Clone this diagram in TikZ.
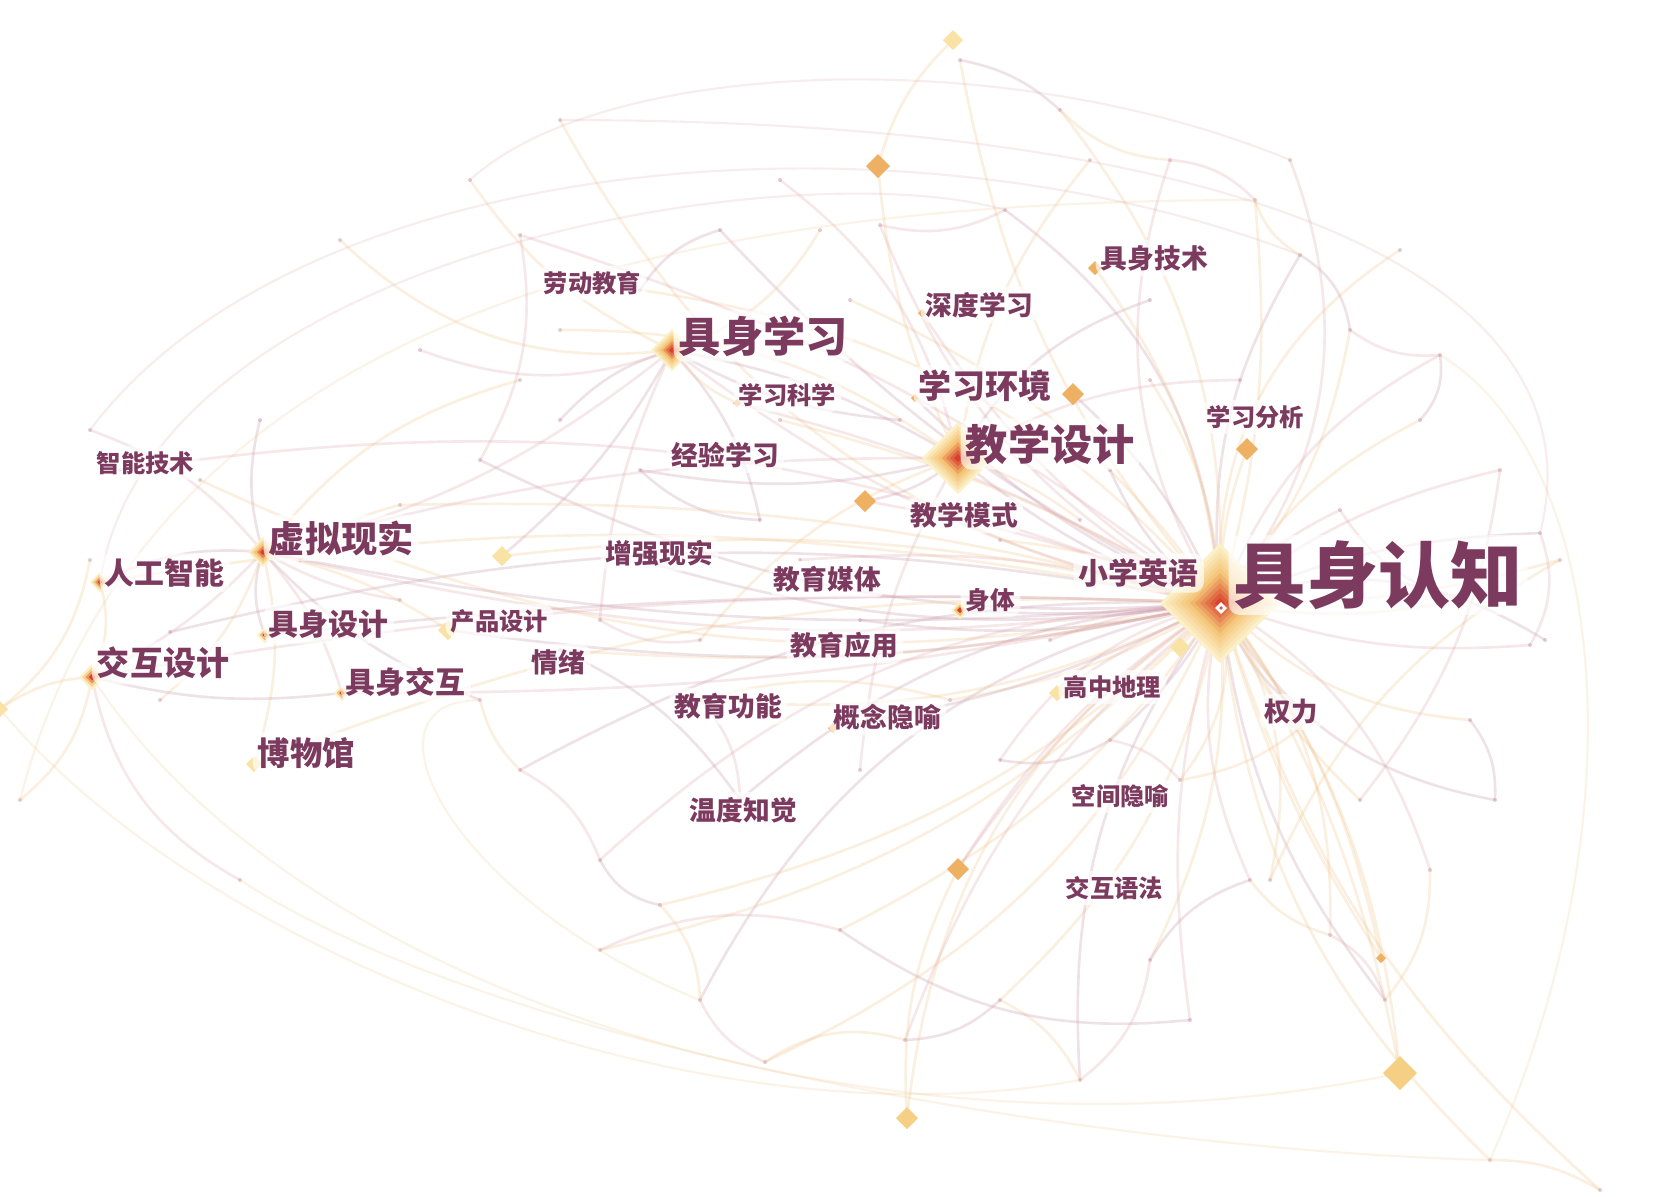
\documentclass[tikz,border=0pt]{standalone}
\usepackage{fontspec}
\newfontfamily\cjk{Noto Sans CJK SC}
\definecolor{kwtext}{HTML}{7C3A5F}
\definecolor{ringlow}{HTML}{FCF0C8}
\definecolor{ringmid}{HTML}{F4C274}
\definecolor{ringhigh}{HTML}{D8402C}
\definecolor{linkA}{HTML}{F0C48A}
\definecolor{linkB}{HTML}{E0A6A8}
\definecolor{linkC}{HTML}{C492A6}
\definecolor{markorange}{HTML}{EEB063}
\definecolor{markpale}{HTML}{F9E3A4}
\definecolor{markpeach}{HTML}{F5CF84}
% layered keyword marker: centre, half diagonal, rings
\newcommand{\kwmark}[3]{%
  \foreach \k in {0,...,#3}{%
    \pgfmathsetmacro\rr{#2*(1-\k/(#3+1))}%
    \pgfmathtruncatemacro\pp{200*\k/#3}%
    \ifnum\pp<101 \def\rc{ringmid!\pp!ringlow}%
    \else \pgfmathtruncatemacro\qq{\pp-100}\def\rc{ringhigh!\qq!ringmid}\fi
    \fill[\rc] (#1) ++(-\rr,0) -- ++(\rr,-\rr) -- ++(\rr,\rr) -- ++(-\rr,\rr) -- cycle;
  }}
\newcommand{\solidmark}[3]{%
  \fill[#3] (#1) ++(-#2,0) -- ++(#2,-#2) -- ++(#2,#2) -- ++(-#2,#2) -- cycle;}
\tikzset{
  kw/.style={text=kwtext, anchor=west, fill=white, fill opacity=0.65, text opacity=1,
    rounded corners=3pt, inner sep=1.5pt, font=\cjk\bfseries\fontsize{#1}{#1}\selectfont},
  linkline/.style={line width=0.75pt, opacity=0.26},
  farline/.style={line width=0.6pt, opacity=0.2},
}
\begin{document}
\begin{tikzpicture}[x=0.01cm,y=-0.01cm]
\useasboundingbox[fill=white] (0,0) rectangle (1678,1196);

% marker centres
\coordinate (hub) at (1220,603);
\coordinate (d-ed) at (958,458);
\coordinate (d-el) at (672,350);
\coordinate (d-vr) at (263,552);
\coordinate (d-ai) at (100,582);
\coordinate (d-ixd) at (92,677);
\coordinate (d-edes) at (265,635);
\coordinate (d-eint) at (342,693);
\coordinate (d-pd) at (448,630);
\coordinate (d-mus) at (254,764);
\coordinate (d-body) at (960,610);
\coordinate (d-a) at (878,166);
\coordinate (d-b) at (1073,394);
\coordinate (d-c) at (1247,449);
\coordinate (d-d) at (865,501);
\coordinate (d-e) at (958,869);
\coordinate (d-f) at (1381,958);
\coordinate (d-g) at (1095,268);
\coordinate (d-h) at (922,313);
\coordinate (d-i) at (737,403);
\coordinate (d-j) at (915,398);
\coordinate (d-k) at (833,728);
\coordinate (d-l) at (953,40);
\coordinate (d-m) at (502,556);
\coordinate (d-n) at (1400,1073);
\coordinate (d-o) at (907,1118);
\coordinate (d-p) at (1180,647);
\coordinate (d-q) at (1057,693);
\coordinate (d-r) at (0,709);

% links from the hub
\foreach \ex/\ey/\bd/\cl [count=\i] in {
  1540/533/10/linkC, 1530/645/-12/linkB, 1470/720/-20/linkA, 1495/800/-25/linkC,
  1420/420/15/linkA, 1440/355/20/linkB, 1350/330/-15/linkA, 1300/255/18/linkC,
  1255/200/-10/linkA, 1170/160/25/linkB, 1060/110/-20/linkA, 960/60/15/linkA,
  1005/210/-25/linkC, 880/225/20/linkB, 850/300/-15/linkA, 720/230/10/linkC,
  640/290/-20/linkA, 560/120/25/linkA, 520/235/-10/linkB, 480/460/15/linkC,
  400/505/-8/linkA, 300/560/10/linkB, 170/632/-12/linkC, 200/480/18/linkA,
  120/470/-15/linkB, 560/650/8/linkA, 520/770/-15/linkC, 600/860/-20/linkB,
  660/905/15/linkA, 700/1000/-25/linkC, 765/1062/20/linkA, 905/1040/-15/linkB,
  1000/1000/18/linkA, 1080/1080/-20/linkC, 1150/960/15/linkA, 1250/880/-18/linkB,
  1330/935/20/linkA, 1385/1000/-15/linkC, 1430/870/20/linkB, 1490/1160/-20/linkA,
  1400/1073/15/linkA, 958/869/-10/linkB, 1381/958/12/linkA, 907/1118/-25/linkA,
  1110/740/10/linkC, 1000/760/-20/linkB, 1180/780/25/linkA, 1310/720/-15/linkC,
  1340/510/12/linkB, 1460/600/-10/linkA, 860/620/10/linkC, 800/560/-10/linkB,
  700/700/15/linkA, 740/800/-18/linkC, 950/700/10/linkA, 1050/640/-8/linkB,
  640/560/12/linkC, 1000/540/-10/linkA, 1110/470/15/linkC, 1150/380/-15/linkA,
  1600/1190/-15/linkA, 1545/640/25/linkC, 1290/160/-30/linkB, 1400/250/30/linkA,
  1270/880/22/linkA, 1190/1020/-12/linkB, 840/930/14/linkA, 1560/560/-8/linkA,
  1500/470/12/linkB, 1360/800/-10/linkA, 600/950/16/linkA, 780/420/-8/linkA}
{
  \coordinate (f\i) at (\ex,\ey);
  \draw[linkline, draw=\cl] (hub) to[bend left=\bd] (f\i);
  \fill[linkC, opacity=0.45] (f\i) circle[radius=2];
}

% links from the other large keywords
\foreach \src/\ex/\ey/\bd/\cl [count=\i] in {
  d-ed/1090/160/15/linkA, d-ed/780/180/-20/linkB, d-ed/640/470/12/linkC,
  d-ed/700/640/-15/linkA, d-ed/1150/300/20/linkC, d-ed/860/770/-12/linkB,
  d-ed/1080/520/10/linkA, d-ed/560/330/-18/linkA, d-ed/1240/380/15/linkB,
  d-el/470/180/15/linkA, d-el/560/420/-15/linkC, d-el/420/350/20/linkB,
  d-el/820/230/-20/linkA, d-el/760/520/15/linkC, d-el/600/620/-10/linkB,
  d-el/340/240/25/linkA, d-el/900/420/-12/linkC,
  d-vr/90/430/-15/linkB, d-vr/160/700/15/linkA, d-vr/480/700/-12/linkC,
  d-vr/520/380/18/linkA, d-vr/400/600/-10/linkB, d-vr/260/420/15/linkC,
  d-ixd/20/800/20/linkA, d-ixd/240/880/-25/linkB, d-r/90/560/-20/linkA}
{
  \coordinate (g\i) at (\ex,\ey);
  \draw[linkline, draw=\cl] (\src) to[bend left=\bd] (g\i);
  \fill[linkC, opacity=0.45] (g\i) circle[radius=2];
}

% links between keywords
\foreach \a/\b/\bd/\cl in {
  hub/d-ed/10/linkC, hub/d-el/12/linkB, hub/d-vr/8/linkC, hub/d-ai/-10/linkA,
  hub/d-ixd/-6/linkB, hub/d-edes/-4/linkC, hub/d-eint/6/linkB, hub/d-mus/-12/linkA,
  hub/d-body/5/linkC, hub/d-p/0/linkA, hub/d-q/-5/linkB, hub/d-c/10/linkA,
  hub/d-b/-12/linkC, hub/d-g/-15/linkA, hub/d-h/12/linkB, hub/d-k/8/linkC,
  hub/d-d/-6/linkB, hub/d-m/-10/linkA, hub/d-pd/10/linkC, hub/d-e/-12/linkB,
  hub/d-n/10/linkA, hub/d-f/-8/linkA, hub/d-j/10/linkC, hub/d-i/-8/linkB,
  d-ed/d-el/-10/linkC, d-ed/d-vr/-8/linkB, d-ed/d-a/10/linkA, d-ed/d-d/15/linkC,
  d-el/d-vr/12/linkB, d-el/d-i/-15/linkA, d-el/d-m/10/linkC,
  d-vr/d-ai/-15/linkC, d-vr/d-ixd/10/linkB, d-vr/d-mus/15/linkA, d-vr/d-edes/-20/linkC,
  d-vr/d-pd/10/linkA, d-vr/d-eint/12/linkB, d-ai/d-ixd/20/linkA, d-ixd/d-r/-15/linkA,
  d-ixd/d-eint/-10/linkC, d-a/d-l/15/linkA, d-e/d-o/-15/linkA,
  f27/f28/20/linkB, f28/f29/-25/linkC, f29/f30/20/linkA, f30/f31/-20/linkB,
  f31/f32/25/linkA, f32/f33/-20/linkC, f33/f34/18/linkA, f34/f35/-22/linkB,
  f35/f36/20/linkC, f36/f37/-18/linkA, f37/f38/22/linkB, f38/f39/-20/linkA,
  f26/f54/15/linkC, f54/f53/-20/linkB, f53/f55/15/linkA, f46/f45/-20/linkC,
  f45/f47/18/linkB, f47/f48/-15/linkA, f1/f2/25/linkB, f5/f6/-25/linkC,
  f6/f7/20/linkB, f7/f8/-25/linkC, f8/f9/20/linkA, f9/f10/-20/linkB,
  f10/f11/20/linkA, f11/f12/-15/linkC, f13/f14/20/linkB, f16/f17/-20/linkC,
  f19/f20/20/linkB, f21/f22/-15/linkA, f66/f67/20/linkC, f67/f71/-20/linkB,
  g3/g14/-20/linkC, g4/g15/20/linkB, g20/f27/-15/linkA, f3/f4/20/linkC,
  f49/f50/-20/linkB, f65/f68/18/linkA, f61/f40/-15/linkA, f69/f70/15/linkB}
{
  \draw[linkline, draw=\cl] (\a) to[bend left=\bd] (\b);
}

% wide sweeping arcs
\draw[farline, draw=linkB] (g18) .. controls (300,150) and (900,100) .. (f8);
\draw[farline, draw=linkA] (d-r) .. controls (200,950) and (700,1150) .. (f34);
\draw[farline, draw=linkA] (g24) .. controls (150,300) and (700,200) .. (f9);
\draw[farline, draw=linkA] (d-ixd) .. controls (300,1000) and (900,1180) .. (d-n);
\draw[farline, draw=linkB] (f1) .. controls (1600,300) and (1300,120) .. (f18);
\draw[farline, draw=linkA] (f40) .. controls (1650,800) and (1600,450) .. (f6);
\draw[farline, draw=linkB] (g10) .. controls (600,60) and (1000,40) .. (f63);
\draw[farline, draw=linkA] (f30) .. controls (450,900) and (350,700) .. (g20);
\draw[farline, draw=linkA] (g25) .. controls (500,1050) and (1100,1150) .. (f40);
\draw[farline, draw=linkB] (d-ai) .. controls (150,250) and (800,150) .. (f13);

% keyword markers
\kwmark{hub}{60}{11}
\kwmark{d-ed}{36}{8}
\kwmark{d-el}{21}{6}
\kwmark{d-vr}{15}{4}
\kwmark{d-ai}{10}{3}
\kwmark{d-ixd}{13}{3}
\kwmark{d-edes}{8}{2}
\kwmark{d-eint}{8}{2}
\kwmark{d-body}{9}{2}
\solidmark{d-pd}{10}{markpale}
\solidmark{d-mus}{8}{markpale}
\solidmark{d-a}{12}{markorange}
\solidmark{d-b}{11}{markorange}
\solidmark{d-c}{11}{markorange}
\solidmark{d-d}{11}{markorange}
\solidmark{d-e}{11}{markorange}
\solidmark{d-f}{5}{markorange}
\solidmark{d-g}{7}{markorange}
\solidmark{d-h}{4}{markorange}
\solidmark{d-i}{4}{markorange}
\solidmark{d-j}{4}{markorange}
\solidmark{d-k}{5}{markorange}
\solidmark{d-l}{10}{markpale}
\solidmark{d-m}{10}{markpale}
\solidmark{d-n}{17}{markpeach}
\solidmark{d-o}{11}{markpeach}
\solidmark{d-p}{10}{markpale}
\solidmark{d-q}{8}{markpale}
\solidmark{d-r}{8}{markpale}
\draw[white, line width=0.8pt] (hub) ++(-3,5) -- ++(4,-4) -- ++(4,4) -- ++(-4,4) -- cycle;

% keyword labels
\node[kw=20.5] (ecl) at (1228,575) {具身认知};
\node[kw=12] (ed) at (960,444) {教学设计};
\node[kw=12] (el) at (673,336) {具身学习};
\node[kw=10.3] (vr) at (263,538) {虚拟现实};
\node[kw=9.4] (le) at (913,386) {学习环境};
\node[kw=8.5] (ai) at (99,573) {人工智能};
\node[kw=9.4] (ixd) at (91,663) {交互设计};
\node[kw=9.2] (mus) at (252,753) {博物馆};
\node[kw=8.5] (edes) at (263,624) {具身设计};
\node[kw=8.5] (eint) at (340,682) {具身交互};
\node[kw=7.6] (ar) at (600,553) {增强现实};
\node[kw=7.6] (media) at (768,579) {教育媒体};
\node[kw=7.6] (app) at (785,645) {教育应用};
\node[kw=7.6] (func) at (669,706) {教育功能};
\node[kw=7.6] (cm) at (828,717) {概念隐喻};
\node[kw=7.6] (temp) at (684,810) {温度知觉};
\node[kw=7.6] (emo) at (526,662) {情绪};
\node[kw=6.9] (pd) at (445,621) {产品设计};
\node[kw=7.6] (exl) at (666,455) {经验学习};
\node[kw=6.9] (ls) at (733,395) {学习科学};
\node[kw=6.9] (labor) at (538,283) {劳动教育};
\node[kw=6.9] (it) at (91,463) {智能技术};
\node[kw=7.6] (dl) at (920,305) {深度学习};
\node[kw=7.6] (et) at (1095,258) {具身技术};
\node[kw=6.9] (la) at (1201,417) {学习分析};
\node[kw=7.6] (tm) at (905,515) {教学模式};
\node[kw=8.5] (pe) at (1073,573) {小学英语};
\node[kw=7] (body) at (960,600) {身体};
\node[kw=6.9] (geo) at (1058,687) {高中地理};
\node[kw=7.5] (power) at (1259,712) {权力};
\node[kw=6.9] (sm) at (1066,796) {空间隐喻};
\node[kw=6.9] (ig) at (1060,888) {交互语法};
\end{tikzpicture}
\end{document}
